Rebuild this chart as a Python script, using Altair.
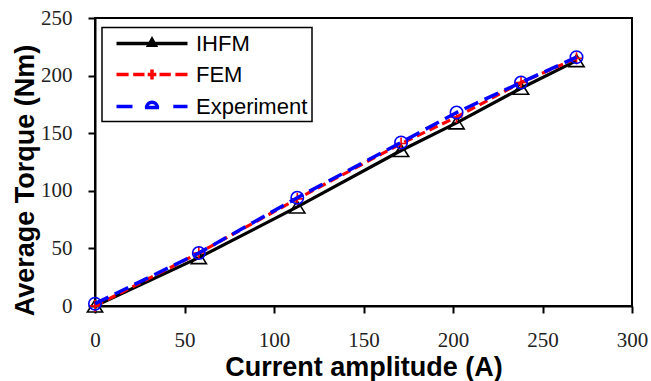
import altair as alt
import pandas as pd

# ---- data ----
current = [0, 58, 113, 171, 202, 238, 269]
ihfm = [0, 42, 86, 135, 159, 189, 213]
fem = [0, 46, 93, 141, 164, 194, 215]
experiment = [2, 46, 94, 142, 168, 194, 216]

series_names = ["IHFM", "FEM", "Experiment"]
series_colors = ["#000000", "#ff0000", "#0000ff"]
x_ticks = [0, 50, 100, 150, 200, 250, 300]
y_ticks = [0, 50, 100, 150, 200, 250]

# legend glyphs (line + marker), drawn as custom symbol paths (unit = 10 px)
legend_glyphs = [
    "M-3.55,0H3.55M-0.32,0.18L0,-0.39L0.32,0.18Z",
    "M-3.55,0H-2.34M-1.88,0H-0.75M0,-0.5V0.5M-0.43,0H0.43M0.75,0H1.88M2.34,0H3.55",
    "M-3.55,0H-1.95M-0.71,0.1H0.71M-0.53,0.1A0.53,0.53 0 0,1 0.53,0.1M2.13,0H3.55",
]
triangle_path = "M0,-0.75L0.95,0.75L-0.95,0.75Z"
plus_path = "M0,-1V1M-1,0H1"

rows = []
for name, vals in zip(series_names, [ihfm, fem, experiment]):
    for c, v in zip(current, vals):
        rows.append({"series": name, "current": c, "torque": v})
df = pd.DataFrame(rows)

tick_font = "Liberation Serif"

x_enc = alt.X(
    "current:Q",
    scale=alt.Scale(domain=[0, 300], nice=False, zero=False),
    axis=alt.Axis(
        values=x_ticks, title="Current amplitude (A)", labelPadding=16,
        labelFlush=False, titleY=69, titleBaseline="alphabetic",
        labelFont=tick_font, labelFontSize=21, labelColor="#222222",
    ),
)
y_enc = alt.Y(
    "torque:Q",
    scale=alt.Scale(domain=[0, 250], nice=False, zero=False),
    axis=alt.Axis(
        values=y_ticks, title="Average Torque (Nm)", labelPadding=16,
        labelFlush=False, titleX=-62, titleY=162, titleBaseline="alphabetic",
        titleAlign="center", titleAngle=270,
        labelFont=tick_font, labelFontSize=21, labelColor="#222222",
    ),
)

base = alt.Chart(df).encode(x=x_enc, y=y_enc)

def sel(name):
    return base.transform_filter(alt.datum.series == name)

line_ihfm = sel("IHFM").mark_line(color="#000000", strokeWidth=3.2)
pts_ihfm = sel("IHFM").mark_point(shape=triangle_path, size=256, color="#000000",
                                  strokeWidth=1.6, filled=False, opacity=1)
line_fem = sel("FEM").mark_line(color="#ff0000", strokeWidth=3.2, strokeDash=[9, 5])
pts_fem = sel("FEM").mark_point(shape=plus_path, size=144, color="#ff0000",
                                strokeWidth=1.6, filled=False, opacity=1)
line_exp = sel("Experiment").mark_line(color="#0000ff", strokeWidth=3.5, strokeDash=[15, 7])
pts_exp = sel("Experiment").mark_point(shape="circle", size=154, color="#0000ff",
                                       strokeWidth=1.6, filled=False, opacity=1)

leg = alt.Legend(title=None, orient="none", legendX=7, legendY=9.5)
legend_layer = base.mark_point(opacity=0, filled=False, strokeWidth=3.5).encode(
    color=alt.Color("series:N", scale=alt.Scale(domain=series_names, range=series_colors), legend=leg),
    shape=alt.Shape("series:N", scale=alt.Scale(domain=series_names, range=legend_glyphs), legend=leg),
)

chart = alt.layer(
    line_ihfm, pts_ihfm, line_fem, pts_fem, line_exp, pts_exp, legend_layer
).properties(
    width=537, height=288,
    padding={"left": 95, "top": 18, "right": 19, "bottom": 75},
    autosize=alt.AutoSizeParams(type="none"),
    background="white",
).configure_view(
    stroke="black", strokeWidth=2
).configure_axis(
    domainColor="black", domainWidth=2, tickColor="black", tickWidth=2, tickSize=7,
    grid=False,
    titleFont="Liberation Sans", titleFontSize=27, titleFontWeight="bold", titleColor="black",
).configure_legend(
    padding=4, strokeColor="black", strokeWidth=1.5,
    symbolSize=400, symbolStrokeWidth=3.5, symbolOffset=34, symbolOpacity=1,
    labelOffset=32, labelFont="Liberation Sans", labelFontSize=22, labelColor="black",
    rowPadding=8, fillColor="white",
)

chart.save("out.html", embed_options={"renderer": "svg", "actions": False})
